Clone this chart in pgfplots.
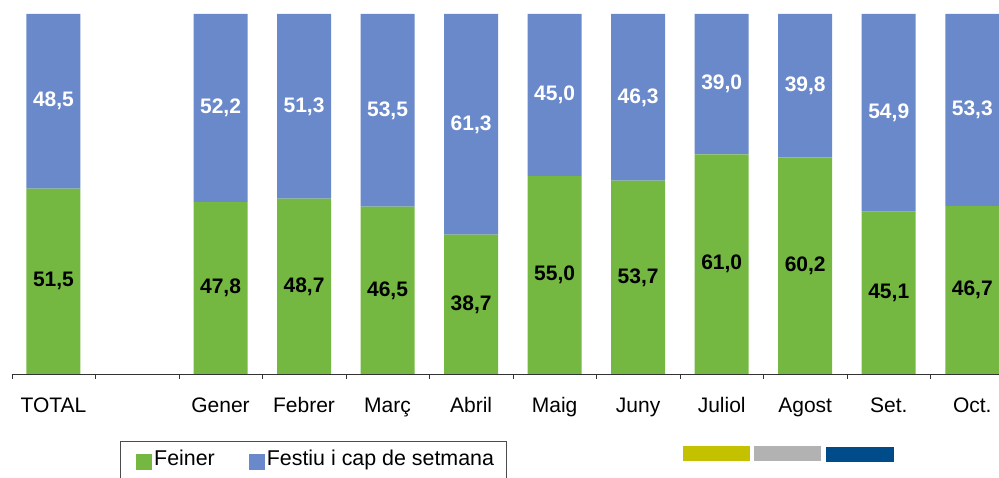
\documentclass[border=0pt]{standalone}
\usepackage{fontspec}
\setmainfont{Liberation Sans}
\usepackage{pgfplots}
\pgfplotsset{compat=1.18}
\definecolor{cgreen}{RGB}{116,184,66}
\definecolor{cblue}{RGB}{106,137,202}
\definecolor{cyel}{RGB}{196,194,0}
\definecolor{cgray}{RGB}{178,178,178}
\definecolor{cnavy}{RGB}{0,76,138}
\begin{document}
\begin{tikzpicture}[x=1pt,y=1pt]
\path[use as bounding box] (0,0) rectangle (999,478);
\begin{axis}[
  at={(11.7pt,104pt)}, anchor=south west,
  scale only axis, width=987.3pt, height=360pt,
  xmin=-0.5, xmax=11.32, ymin=0, ymax=100,
  ybar stacked, bar width=54pt,
  axis x line=bottom, axis y line=none,
  axis line style={-, draw=black!80},
  xtick={0,...,11},
  xticklabels={TOTAL,,Gener,Febrer,Març,Abril,Maig,Juny,Juliol,Agost,Set.,Oct.},
  major x tick style={draw=none},
  minor xtick={-0.5,0.5,...,11.5},
  minor tick length=5pt, tick align=outside,
  minor x tick style={draw=black!80},
  xticklabel style={font=\fontsize{21}{24}\selectfont, text height=15pt, text depth=4pt, yshift=-16pt},
  clip=false,
  nodes near coords,
  point meta=rawy,
  every node near coord/.append style={anchor=center,
     font=\fontsize{21}{24}\selectfont\bfseries},
  legend columns=2,
  legend style={at={(0.1097,-0.1861)}, anchor=north west, draw=black!70,
     inner xsep=10pt, inner ysep=7pt,
     font=\fontsize{21.4}{24}\selectfont,
     /tikz/every even column/.append style={column sep=26pt}},
  legend image code/.code={\path (0pt,0pt) (0pt,-18pt); \fill[#1,draw=none] (6pt,-11pt) rectangle (22pt,5pt);},
  /pgf/number format/.cd, use comma, fixed, fixed zerofill, precision=1, assume math mode=true
]
\addplot[fill=cgreen, draw=none, every node near coord/.append style={text=black}] coordinates {
(0,51.5) (2,47.8) (3,48.7) (4,46.5) (5,38.7) (6,55.0) (7,53.7) (8,61.0) (9,60.2) (10,45.1) (11,46.7)};
\addplot[fill=cblue, draw=none, every node near coord/.append style={text=white}] coordinates {
(0,48.5) (2,52.2) (3,51.3) (4,53.5) (5,61.3) (6,45.0) (7,46.3) (8,39.0) (9,39.8) (10,54.9) (11,53.3)};
\legend{Feiner,Festiu i cap de setmana}
\end{axis}
\fill[cyel] (683,17) rectangle (750,32);
\fill[cgray] (754,17) rectangle (821,32);
\fill[cnavy] (826,16) rectangle (894,31);
\end{tikzpicture}
\end{document}
